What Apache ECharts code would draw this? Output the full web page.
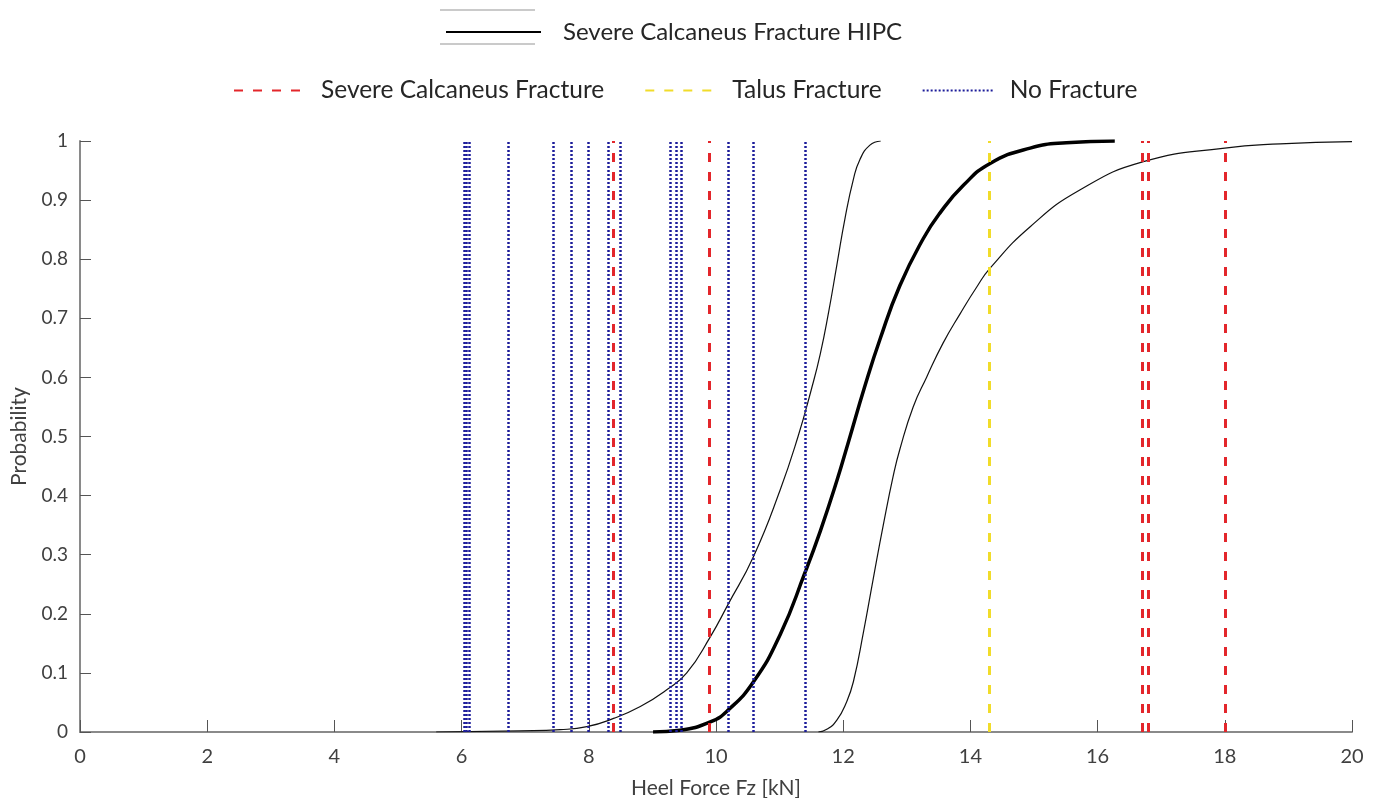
<!DOCTYPE html>
<html>
<head>
<meta charset="utf-8">
<script src="https://cdn.jsdelivr.net/npm/echarts@6/dist/echarts.min.js"></script>
<style>
html,body{margin:0;padding:0;background:#fff;}
#chart{width:1382px;height:798px;}
</style>
</head>
<body>
<div id="chart"></div>
<script>
// ---- data ----
const xTicks = [0, 2, 4, 6, 8, 10, 12, 14, 16, 18, 20];
const yTicks = [0, 0.1, 0.2, 0.3, 0.4, 0.5, 0.6, 0.7, 0.8, 0.9, 1];

// Severe Calcaneus Fracture HIPC (thick curve)  [force kN, probability]
const hipcCurve = [
  [9.01, 0], [9.43, 0.003], [9.91, 0.017], [10.19, 0.037], [10.59, 0.085],
  [11.01, 0.165], [11.40, 0.27], [11.64, 0.34], [11.90, 0.425], [12.08, 0.49],
  [12.34, 0.585], [12.58, 0.665], [12.89, 0.755], [13.26, 0.835],
  [13.52, 0.878], [13.89, 0.925], [14.31, 0.962], [14.94, 0.988], [15.51, 0.997],
  [16.27, 1.0]
];
// lower confidence bound (left thin curve)
const lowerCurve = [
  [5.60, 0], [6.92, 0.002], [7.55, 0.004], [7.97, 0.009], [8.39, 0.023],
  [8.81, 0.043], [9.22, 0.071], [9.54, 0.100], [9.91, 0.161],
  [10.19, 0.216], [10.59, 0.297], [11.01, 0.41], [11.29, 0.50], [11.50, 0.58],
  [11.64, 0.64], [11.77, 0.71], [11.90, 0.79], [12.03, 0.87], [12.16, 0.935],
  [12.26, 0.968], [12.42, 0.993], [12.59, 1.0]
];
// upper confidence bound (right thin curve)
const upperCurve = [
  [11.61, 0], [11.75, 0.005], [11.90, 0.02], [12.05, 0.05], [12.16, 0.085],
  [12.32, 0.17], [12.47, 0.258], [12.63, 0.35], [12.79, 0.435], [12.89, 0.478],
  [13.10, 0.55], [13.31, 0.60], [13.57, 0.658], [13.84, 0.708], [14.10, 0.753],
  [14.31, 0.785], [14.94, 0.855], [15.72, 0.917], [16.72, 0.965], [18.00, 0.988],
  [18.87, 0.995], [20.00, 0.999]
];
// vertical markers (heel force of each test)
const severeFractureX = [8.385, 9.89, 16.70, 16.80, 18.00];
const talusFractureX = [14.30];
const noFractureX = [6.04, 6.08, 6.12, 6.73, 7.44, 7.72, 7.99, 8.31, 8.49, 9.28, 9.37, 9.46, 10.19, 10.59, 11.40];

const FONT = 'Lato';
const RED = '#e3262b', YELLOW = '#f1dc2a', BLUE = '#1c1c9a';

function vLines(xs) { return xs.map(v => ({ xAxis: v })); }

const chart = echarts.init(document.getElementById('chart'), null, { renderer: 'canvas' });
chart.setOption({
  animation: false,
  backgroundColor: '#fff',
  grid: { left: 80, right: 30, top: 141, bottom: 66, containLabel: false, outerBoundsMode: 'none' },
  legend: [
    {
      data: ['Severe Calcaneus Fracture HIPC'],
      left: 440, top: 15,
      itemWidth: 95, itemHeight: 14,
      itemStyle: { opacity: 0 },
      textStyle: { fontFamily: FONT, fontSize: 24, color: '#262626', padding: [0, 0, 0, 17] },
      selectedMode: false
    },
    {
      data: ['Severe Calcaneus Fracture', 'Talus Fracture', 'No Fracture'],
      left: 228, top: 73,
      itemWidth: 72, itemHeight: 14, itemGap: 40,
      itemStyle: { opacity: 0 },
      textStyle: { fontFamily: FONT, fontSize: 24.5, color: '#262626', padding: [0, 0, 0, 10] },
      selectedMode: false
    }
  ],
  graphic: [
    { type: 'line', shape: { x1: 440, y1: 10, x2: 535, y2: 10 }, style: { stroke: '#b8b8b8', lineWidth: 1.5 }, silent: true },
    { type: 'line', shape: { x1: 440, y1: 44, x2: 535, y2: 44 }, style: { stroke: '#b8b8b8', lineWidth: 1.5 }, silent: true }
  ],
  xAxis: {
    type: 'value', min: 0, max: 20, interval: 2,
    name: 'Heel Force Fz [kN]', nameLocation: 'middle', nameGap: 46,
    nameTextStyle: { fontFamily: FONT, fontSize: 21, color: '#404040' },
    axisLine: { show: true, lineStyle: { color: '#8a8a8a', width: 2 } },
    axisTick: { show: true, inside: true, length: 12, lineStyle: { color: '#555', width: 1 } },
    axisLabel: { fontFamily: FONT, fontSize: 20, color: '#404040', margin: 15,
      formatter: v => xTicks.includes(v) ? String(v) : '' },
    splitLine: { show: false }
  },
  yAxis: {
    type: 'value', min: 0, max: 1, interval: 0.1,
    name: 'Probability', nameLocation: 'middle', nameGap: 50,
    nameTextStyle: { fontFamily: FONT, fontSize: 21, color: '#404040' },
    axisLine: { show: true, lineStyle: { color: '#8a8a8a', width: 2 } },
    axisTick: { show: true, inside: true, length: 11, lineStyle: { color: '#555', width: 1 } },
    axisLabel: { fontFamily: FONT, fontSize: 19, color: '#404040', margin: 12,
      formatter: v => { const t = yTicks.find(k => Math.abs(k - v) < 1e-6); return t === undefined ? '' : String(t); } },
    splitLine: { show: false }
  },
  series: [
    {
      name: 'Lower bound', type: 'line', data: lowerCurve, showSymbol: false, symbol: 'none',
      smooth: 0.5, z: 2,
      lineStyle: { color: '#111', width: 1.2 }
    },
    {
      name: 'Upper bound', type: 'line', data: upperCurve, showSymbol: false, symbol: 'none',
      smooth: 0.5, z: 2,
      lineStyle: { color: '#111', width: 1.2 }
    },
    {
      name: 'Severe Calcaneus Fracture HIPC', type: 'line', data: hipcCurve, showSymbol: false, symbol: 'none',
      smooth: 0.5, z: 3,
      lineStyle: { color: '#000', width: 3.5 }, itemStyle: { color: '#000' }
    },
    {
      name: 'No Fracture', type: 'line', data: [], symbol: 'none', z: 4,
      lineStyle: { color: BLUE, width: 2.5, type: [2, 2] }, itemStyle: { color: BLUE },
      markLine: { silent: true, symbol: 'none', label: { show: false },
        lineStyle: { color: BLUE, width: 2.5, type: [2, 2] }, data: vLines(noFractureX) }
    },
    {
      name: 'Severe Calcaneus Fracture', type: 'line', data: [], symbol: 'none', z: 5,
      lineStyle: { color: RED, width: 3, type: [9, 10] }, itemStyle: { color: RED },
      markLine: { silent: true, symbol: 'none', label: { show: false },
        lineStyle: { color: RED, width: 3, type: [9, 10] }, data: vLines(severeFractureX) }
    },
    {
      name: 'Talus Fracture', type: 'line', data: [], symbol: 'none', z: 5,
      lineStyle: { color: YELLOW, width: 3, type: [9, 10] }, itemStyle: { color: YELLOW },
      markLine: { silent: true, symbol: 'none', label: { show: false },
        lineStyle: { color: YELLOW, width: 3, type: [9, 10] }, data: vLines(talusFractureX) }
    }
  ]
});
</script>
</body>
</html>
